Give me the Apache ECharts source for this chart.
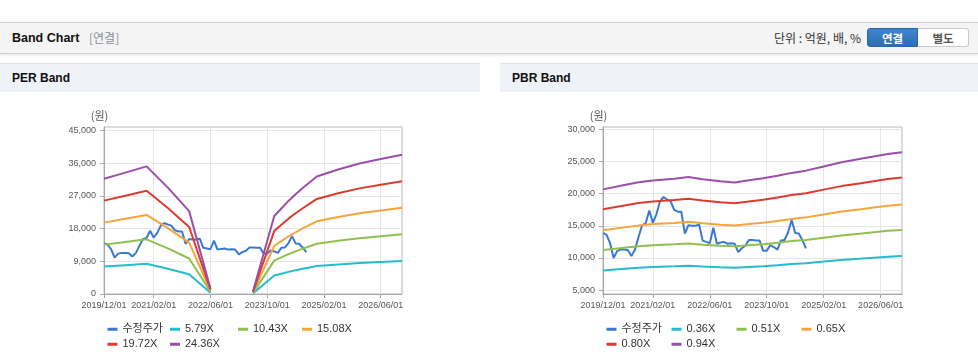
<!DOCTYPE html>
<html>
<head>
<meta charset="utf-8">
<script src="https://cdn.jsdelivr.net/npm/echarts@6/dist/echarts.min.js"></script>
<style>
html,body{margin:0;padding:0;background:#fff;width:978px;height:362px;overflow:hidden;font-family:"Liberation Sans",Arial,"Noto Sans CJK KR",sans-serif;}
#topbar{position:absolute;left:0;top:22px;width:978px;height:30px;background:#f4f4f4;border-top:1px solid #d0d0d0;border-bottom:1px solid #cfcfcf;box-shadow:0 1px 3px rgba(0,0,0,0.12);}
#topbar .title{position:absolute;left:12px;top:0;line-height:30px;font-size:12.5px;font-weight:bold;color:#111;}
#topbar .sub{position:absolute;left:89px;top:0;line-height:30px;font-size:12px;color:#8a8f99;font-family:"Noto Sans CJK KR",sans-serif;}
#topbar .unit{position:absolute;right:117px;top:0;line-height:30px;font-size:12px;color:#333;font-family:"Noto Sans CJK KR",sans-serif;}
.btn{position:absolute;top:5px;height:19px;line-height:19px;width:51px;text-align:center;font-size:11.5px;font-weight:bold;font-family:"Noto Sans CJK KR",sans-serif;box-sizing:border-box;}
#b1{left:867px;background:linear-gradient(#3f86cc,#2c6db3);color:#fff;border:1px solid #2a64a6;border-radius:3px 0 0 3px;}
#b2{left:918px;background:#fff;color:#555;border:1px solid #c9c9c9;border-left:none;border-radius:0 3px 3px 0;}
.ph{position:absolute;top:63px;height:28px;background:#eff2f7;border-top:1px solid #dde2ea;}
.ph span{position:absolute;left:12px;top:0;line-height:28px;font-size:12px;font-weight:bold;color:#111;}
#phPer{left:0;width:480px;}
#phPbr{left:500px;width:478px;}
#per{position:absolute;left:0;top:92px;width:480px;height:270px;}
#pbr{position:absolute;left:500px;top:92px;width:478px;height:270px;}
</style>
</head>
<body>
<div id="topbar"><span class="title">Band Chart</span><span class="sub">[연결]</span><span class="unit">단위 : 억원, 배, %</span><div class="btn" id="b1">연결</div><div class="btn" id="b2">별도</div></div>
<div class="ph" id="phPer"><span>PER Band</span></div>
<div class="ph" id="phPbr"><span>PBR Band</span></div>
<div id="per"></div>
<div id="pbr"></div>
<script>
// ---- categories (monthly, 2019/12/01 .. 2026/12/01) ----
const months = [];
for (let i = 0; i <= 84; i++) {
  const t = 2019 * 12 + 11 + i;
  const y = Math.floor(t / 12), m = t % 12 + 1;
  months.push(y + '/' + (m < 10 ? '0' + m : m) + '/01');
}
const xTickLabels = ['2019/12/01','2021/02/01','2022/06/01','2023/10/01','2025/02/01','2026/06/01'];

// ---- 수정주가 (monthly from 2019/12/01) ----
const price = [13900,13600,12300,10000,11100,11300,11300,11200,10300,11300,
  13300,15100,15400,17400,15500,16800,18800,19500,19100,18800,
  17500,17200,17200,13800,15100,15000,15000,15200,12700,12500,
  12300,14700,12200,12400,12500,12200,12300,12200,10900,11500,
  11900,12800,12800,12700,12700,11100,11100,12000,11700,11300,
  12700,12800,14000,15900,13900,13800,12800,11500];

// ---- PER band ----
const perDates = ['2019/12/01','2020/06/01','2020/12/01','2021/06/01','2021/12/01','2022/06/01','2022/12/01',
  '2023/06/01','2023/12/01','2024/02/01','2024/04/01','2024/06/01','2024/08/01','2024/10/01','2024/12/01',
  '2025/06/01','2025/12/01','2026/06/01','2026/12/01'];
const per579  = [7530,7930,8340,6950,5410,360,null,170,5100,5590,6080,6510,6920,7300,7670,8140,8520,8810,9100];
const per1043 = [13570,14290,15020,12520,9750,650,null,310,9180,10070,10950,11730,12460,13140,13820,14650,15350,15870,16400];
const per1508 = [19620,20660,21720,18100,14100,940,null,450,13270,14550,15830,16970,18020,19000,19980,21190,22200,22950,23710];
const per1972 = [25660,27020,28400,23660,18440,1220,null,590,17350,19030,20710,22190,23570,24850,26130,27710,29030,30010,31000];
const per2436 = [31690,33370,35080,29230,22780,1510,null,730,21440,23510,25580,27410,29110,30690,32280,34230,35860,37080,38290];
const perNames = ['5.79X','10.43X','15.08X','19.72X','24.36X'];
const perTicks = [0,9000,18000,27000,36000,45000];

// ---- PBR band ----
const pbrDates = ['2019/12/01','2020/06/01','2020/10/01','2021/02/01','2021/08/01','2021/12/01','2022/04/01',
  '2022/09/01','2023/01/01','2023/05/01','2023/09/01','2024/01/01','2024/05/01','2024/09/01','2025/02/01',
  '2025/07/01','2025/12/01','2026/04/01','2026/08/01','2026/12/01'];
const pbr036 = [8050,8310,8480,8590,8690,8790,8660,8530,8470,8600,8710,8870,9050,9180,9430,9690,9880,10040,10190,10300];
const pbr051 = [11220,11590,11830,11980,12130,12260,12070,11900,11810,11990,12150,12370,12620,12810,13160,13510,13780,14000,14220,14370];
const pbr065 = [14300,14760,15070,15270,15450,15630,15390,15170,15050,15280,15490,15770,16080,16320,16770,17220,17560,17840,18120,18310];
const pbr080 = [17600,18170,18550,18790,19020,19230,18940,18660,18530,18810,19060,19400,19790,20080,20640,21190,21610,21960,22300,22540];
const pbr094 = [20680,21350,21800,22080,22350,22600,22250,21930,21770,22100,22400,22800,23250,23600,24250,24900,25400,25800,26200,26480];
const pbrNames = ['0.36X','0.51X','0.65X','0.80X','0.94X'];
const pbrTicks = [5000,10000,15000,20000,25000,30000];

const priceName = '수정주가';
const colors = ['#3b79d0','#25bcd0','#90c050','#f5a53c','#dc3b30','#9a4fa8'];

function pairs(dates, vals) {
  return dates.map((d, i) => [d, vals[i] === null ? '-' : vals[i]]);
}

function build(names, dates, bands, yMin, yMax, yTicks, legendLefts) {
  const isTick = (idx, val) => xTickLabels.indexOf(val) >= 0;
  const series = [{
    name: priceName, type: 'line', data: price, showSymbol: false, symbol: 'none',
    lineStyle: {width: 2, color: colors[0]}, itemStyle: {color: colors[0]}, z: 2
  }];
  bands.forEach((b, i) => {
    series.push({
      name: names[i], type: 'line', data: pairs(dates, b), showSymbol: false, symbol: 'none',
      connectNulls: false,
      lineStyle: {width: 2, color: colors[i + 1]}, itemStyle: {color: colors[i + 1]}, z: 2
    });
  });
  const legendBase = {
    orient: 'vertical', top: 230, padding: 0, itemGap: 0.5, icon: 'rect',
    itemWidth: 10, itemHeight: 3, selectedMode: false,
    textStyle: {fontSize: 11, color: '#333', lineHeight: 14.5,
      fontFamily: '"Liberation Sans", Arial, "Noto Sans CJK KR", sans-serif'}
  };
  const cols = [[priceName, names[3]], [names[0], names[4]], [names[1]], [names[2]]];
  return {
    animation: false,
    textStyle: {fontFamily: '"Liberation Sans", Arial, "Noto Sans CJK KR", sans-serif'},
    grid: {left: legendLefts.gl, right: legendLefts.gr, top: 35, bottom: 68,
      show: true, borderColor: '#b8b8b8', borderWidth: 1, backgroundColor: 'transparent'},
    legend: cols.map((c, i) => Object.assign({}, legendBase, {data: c, left: legendLefts.l[i]})),
    xAxis: {
      type: 'category', data: months, boundaryGap: false,
      axisLine: {lineStyle: {color: '#a8a8a8'}},
      axisTick: {interval: isTick, length: 4, lineStyle: {color: '#a8a8a8'}},
      axisLabel: {interval: isTick, fontSize: 9, color: '#555', margin: 7, showMinLabel: true, showMaxLabel: true},
      splitLine: {show: true, interval: isTick, lineStyle: {color: '#e6e6e6'}}
    },
    yAxis: {
      type: 'value', min: yMin, max: yMax,
      name: '(원)', nameLocation: 'end', nameGap: 6,
      nameTextStyle: {fontSize: 11, color: '#555', align: 'center', padding: [0, 9, 0, 0],
        fontFamily: '"Noto Sans CJK KR", sans-serif'},
      axisLine: {show: true, lineStyle: {color: '#a8a8a8'}},
      axisTick: {show: true, length: 4, customValues: yTicks, lineStyle: {color: '#a8a8a8'}},
      axisLabel: {fontSize: 9, color: '#555', margin: 8, customValues: yTicks,
        formatter: v => v.toLocaleString('en-US')},
      splitLine: {show: true, lineStyle: {color: '#e6e6e6'}}
    },
    series: series
  };
}

const perChart = echarts.init(document.getElementById('per'), null, {renderer: 'canvas'});
perChart.setOption(build(perNames, perDates, [per579, per1043, per1508, per1972, per2436],
  0, 45900, perTicks, {gl: 104, gr: 78, l: [107.5, 170, 238, 302]}));

const pbrChart = echarts.init(document.getElementById('pbr'), null, {renderer: 'canvas'});
pbrChart.setOption(build(pbrNames, pbrDates, [pbr036, pbr051, pbr065, pbr080, pbr094],
  4380, 30400, pbrTicks, {gl: 103, gr: 76, l: [106.5, 171.5, 236.5, 301.5]}));
</script>
</body>
</html>
